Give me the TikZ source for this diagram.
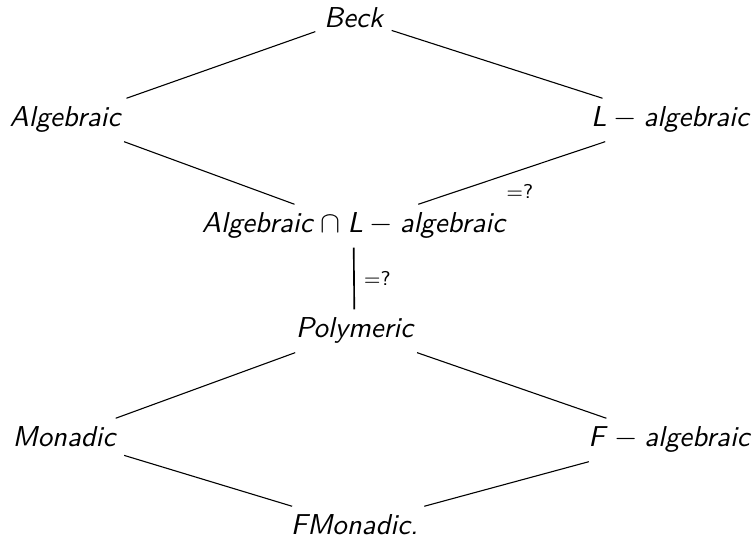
\documentclass[tikz,border=0pt]{standalone}
\usetikzlibrary{calc}
\begin{document}
\begin{tikzpicture}[x=0.365pt,y=-0.365pt,
  lbl/.style={font=\fontsize{10.5pt}{12.5pt}\selectfont\sffamily\itshape, inner sep=3pt, anchor=base},
  eqlbl/.style={font=\fontsize{7.3pt}{9pt}\selectfont\sffamily\upshape, inner sep=0pt},
  edge/.style={line width=0.4pt},
  vedge/.style={line width=0.6pt}]
\useasboundingbox (0,0) rectangle (752,553);
\node[lbl] (beck) at (353.5,28) {Beck};
\node[lbl] (alg)  at (65,127) {Algebraic};
\node[lbl] (lalg) at (670,127) {L\/${}-{}$algebraic};
\node[lbl] (int)  at (353.5,233) {Algebraic\/${}\cap{}$L\/${}-{}$algebraic};
\node[lbl] (poly) at (354.5,338) {Polymeric};
\node[lbl] (mon)  at (64,447) {Monadic};
\node[lbl] (falg) at (669,447) {F\/${}-{}$algebraic};
\node[lbl] (fmon) at (354.5,535) {FMonadic.};
\draw[edge] (beck) -- (alg);
\draw[edge] (beck) -- (lalg);
\draw[edge] (alg) -- (int);
\draw[edge] (lalg) -- (int) node[eqlbl, midway, shift={(8,18)}] {$=$?};
\draw[vedge] (int) -- (poly) node[eqlbl, midway, anchor=west, shift={(9,0)}] {$=$?};
\draw[edge] (poly) -- (mon);
\draw[edge] (poly) -- (falg);
\draw[edge] (mon) -- (fmon);
\draw[edge] (falg) -- (fmon);
\end{tikzpicture}
\end{document}
